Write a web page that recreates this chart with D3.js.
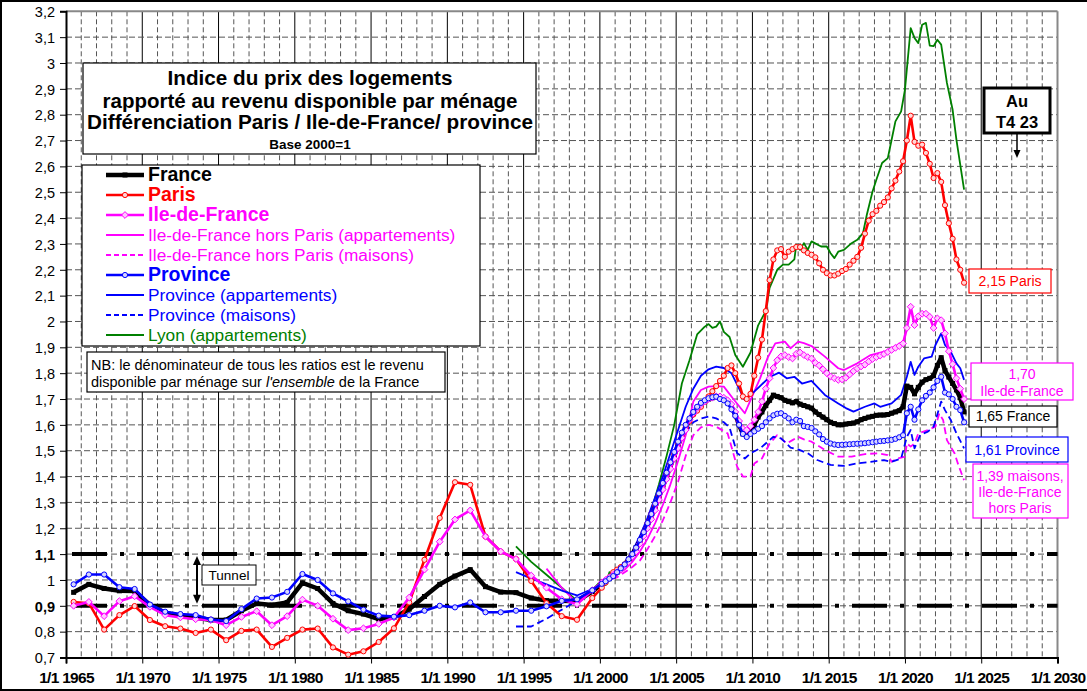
<!DOCTYPE html>
<html><head><meta charset="utf-8">
<script src="https://cdn.jsdelivr.net/npm/d3@7/dist/d3.min.js"></script>
<style>body{margin:0;background:#fff;overflow:hidden}svg{display:block;font-family:"Liberation Sans",Arial,sans-serif}</style>
</head><body><svg id="c" width="1087" height="691"></svg>
<script>
// ---------- DATA ----------
const yTicks = [0.7,0.8,0.9,1.0,1.1,1.2,1.3,1.4,1.5,1.6,1.7,1.8,1.9,2.0,2.1,2.2,2.3,2.4,2.5,2.6,2.7,2.8,2.9,3.0,3.1,3.2];
const yTickLabels = ["0,7","0,8","0,9","1","1,1","1,2","1,3","1,4","1,5","1,6","1,7","1,8","1,9","2","2,1","2,2","2,3","2,4","2,5","2,6","2,7","2,8","2,9","3","3,1","3,2"];
const yBoldLabels = ["0,9","1,1"];
const xTicks = [1965,1970,1975,1980,1985,1990,1995,2000,2005,2010,2015,2020,2025,2030];
const xTickLabels = ["1/1 1965","1/1 1970","1/1 1975","1/1 1980","1/1 1985","1/1 1990","1/1 1995","1/1 2000","1/1 2005","1/1 2010","1/1 2015","1/1 2020","1/1 2025","1/1 2030"];
const tunnelLevels = [1.1, 0.9];

const france = [[1965.5,.952],[1966.5,.983],[1967.5,.967],[1968.5,.958],[1969.5,.957],[1970.5,.903],[1971.5,.873],[1972.5,.86],[1973.5,.855],[1974.5,.845],[1975.5,.845],[1976.5,.881],[1977.5,.909],[1978.5,.903],[1979.5,.913],[1980.5,.989],[1981.5,.967],[1982.5,.909],[1983.5,.881],[1984.5,.868],[1985.5,.849],[1986.5,.855],[1987.5,.887],[1988.5,.936],[1989.5,.983],[1990.5,1.015],[1991.5,1.04],[1992.5,.974],[1993.5,.953],[1994.5,.951],[1995.5,.93],[1996.5,.92],[1997.5,.92],[1998.5,.918],[1999.5,.955],
[2000.125,.985],[2000.375,.995],[2000.625,1.005],[2000.875,1.015],[2001.125,1.03],[2001.375,1.045],[2001.625,1.06],[2001.875,1.08],[2002.125,1.10],[2002.375,1.125],[2002.625,1.15],[2002.875,1.18],[2003.125,1.21],[2003.375,1.245],[2003.625,1.28],[2003.875,1.32],[2004.125,1.36],[2004.375,1.40],[2004.625,1.44],[2004.875,1.48],[2005.125,1.52],[2005.375,1.555],[2005.625,1.59],[2005.875,1.62],[2006.125,1.645],[2006.375,1.665],[2006.625,1.68],[2006.875,1.69],[2007.125,1.70],[2007.375,1.705],[2007.625,1.71],[2007.875,1.705],[2008.125,1.70],[2008.375,1.69],[2008.625,1.67],[2008.875,1.64],[2009.125,1.60],[2009.375,1.565],[2009.625,1.56],[2009.875,1.575],[2010.125,1.60],[2010.375,1.63],[2010.625,1.65],[2010.875,1.675],[2011.125,1.695],[2011.375,1.715],[2011.625,1.71],[2011.875,1.705],[2012.125,1.695],[2012.375,1.69],[2012.625,1.685],[2012.875,1.69],[2013.125,1.68],[2013.375,1.675],[2013.625,1.67],[2013.875,1.665],[2014.125,1.65],[2014.375,1.64],[2014.625,1.63],[2014.875,1.62],[2015.125,1.61],[2015.375,1.605],[2015.625,1.60],[2015.875,1.60],[2016.125,1.603],[2016.375,1.605],[2016.625,1.607],[2016.875,1.612],[2017.125,1.62],[2017.375,1.625],[2017.625,1.63],[2017.875,1.633],[2018.125,1.637],[2018.375,1.638],[2018.625,1.638],[2018.875,1.64],[2019.125,1.645],[2019.375,1.65],[2019.625,1.655],[2019.875,1.67],[2020.125,1.75],[2020.375,1.745],[2020.625,1.72],[2020.875,1.745],[2021.125,1.765],[2021.375,1.775],[2021.625,1.78],[2021.875,1.79],[2022.125,1.83],[2022.375,1.86],[2022.625,1.81],[2022.875,1.785],[2023.125,1.76],[2023.375,1.735],[2023.625,1.705],[2023.875,1.65]];

const paris = [[1965.5,.915],[1966.5,.91],[1967.5,.808],[1968.5,.864],[1969.5,.899],[1970.5,.845],[1971.5,.821],[1972.5,.812],[1973.5,.795],[1974.5,.808],[1975.5,.767],[1976.5,.803],[1977.5,.808],[1978.5,.741],[1979.5,.776],[1980.5,.808],[1981.5,.812],[1982.5,.739],[1983.5,.711],[1984.5,.724],[1985.5,.76],[1986.5,.813],[1987.5,.913],[1988.5,1.078],[1989.5,1.24],[1990.5,1.378],[1991.5,1.368],[1992.5,1.168],[1993.5,1.11],[1994.5,1.081],[1995.5,.996],[1996.5,.91],[1997.5,.86],[1998.5,.846],[1999.5,.93],
[2000.125,.97],[2000.375,.99],[2000.625,1.01],[2000.875,1.03],[2001.125,1.04],[2001.375,1.05],[2001.625,1.06],[2001.875,1.075],[2002.125,1.095],[2002.375,1.12],[2002.625,1.15],[2002.875,1.185],[2003.125,1.22],[2003.375,1.255],[2003.625,1.29],[2003.875,1.33],[2004.125,1.37],[2004.375,1.41],[2004.625,1.45],[2004.875,1.49],[2005.125,1.53],[2005.375,1.56],[2005.625,1.59],[2005.875,1.615],[2006.125,1.64],[2006.375,1.655],[2006.625,1.67],[2006.875,1.69],[2007.125,1.71],[2007.375,1.73],[2007.625,1.75],[2007.875,1.77],[2008.125,1.79],[2008.375,1.82],[2008.625,1.83],[2008.875,1.80],[2009.125,1.76],[2009.375,1.71],[2009.625,1.70],[2009.875,1.72],[2010.125,1.79],[2010.375,1.86],[2010.625,1.93],[2010.875,2.04],[2011.125,2.16],[2011.375,2.24],[2011.625,2.275],[2011.875,2.28],[2012.125,2.25],[2012.375,2.27],[2012.625,2.28],[2012.875,2.288],[2013.125,2.288],[2013.375,2.275],[2013.625,2.265],[2013.875,2.258],[2014.125,2.248],[2014.375,2.225],[2014.625,2.20],[2014.875,2.187],[2015.125,2.178],[2015.375,2.178],[2015.625,2.185],[2015.875,2.195],[2016.125,2.203],[2016.375,2.22],[2016.625,2.235],[2016.875,2.25],[2017.125,2.285],[2017.375,2.34],[2017.625,2.39],[2017.875,2.415],[2018.125,2.428],[2018.375,2.448],[2018.625,2.462],[2018.875,2.48],[2019.125,2.515],[2019.375,2.545],[2019.625,2.58],[2019.875,2.62],[2020.125,2.70],[2020.375,2.796],[2020.625,2.695],[2020.875,2.68],[2021.125,2.684],[2021.375,2.652],[2021.625,2.61],[2021.875,2.555],[2022.125,2.574],[2022.375,2.54],[2022.625,2.45],[2022.875,2.38],[2023.125,2.32],[2023.375,2.24],[2023.625,2.20],[2023.875,2.15]];

const idf = [[1965.5,.9],[1966.5,.915],[1967.5,.86],[1968.5,.918],[1969.5,.937],[1970.5,.896],[1971.5,.864],[1972.5,.855],[1973.5,.848],[1974.5,.845],[1975.5,.825],[1976.5,.857],[1977.5,.879],[1978.5,.825],[1979.5,.86],[1980.5,.924],[1981.5,.9],[1982.5,.85],[1983.5,.806],[1984.5,.813],[1985.5,.83],[1986.5,.855],[1987.5,.932],[1988.5,1.04],[1989.5,1.148],[1990.5,1.234],[1991.5,1.269],[1992.5,1.168],[1993.5,1.11],[1994.5,1.081],[1995.5,1.017],[1996.5,.97],[1997.5,.925],[1998.5,.906],[1999.5,.96],
[2000.125,.99],[2000.375,1.0],[2000.625,1.01],[2000.875,1.02],[2001.125,1.03],[2001.375,1.04],[2001.625,1.055],[2001.875,1.07],[2002.125,1.09],[2002.375,1.11],[2002.625,1.14],[2002.875,1.17],[2003.125,1.20],[2003.375,1.235],[2003.625,1.27],[2003.875,1.31],[2004.125,1.35],[2004.375,1.39],[2004.625,1.43],[2004.875,1.47],[2005.125,1.51],[2005.375,1.55],[2005.625,1.58],[2005.875,1.62],[2006.125,1.645],[2006.375,1.665],[2006.625,1.68],[2006.875,1.69],[2007.125,1.70],[2007.375,1.705],[2007.625,1.71],[2007.875,1.71],[2008.125,1.705],[2008.375,1.695],[2008.625,1.68],[2008.875,1.65],[2009.125,1.615],[2009.375,1.585],[2009.625,1.58],[2009.875,1.595],[2010.125,1.62],[2010.375,1.65],[2010.625,1.69],[2010.875,1.74],[2011.125,1.78],[2011.375,1.82],[2011.625,1.85],[2011.875,1.865],[2012.125,1.87],[2012.375,1.862],[2012.625,1.857],[2012.875,1.875],[2013.125,1.88],[2013.375,1.87],[2013.625,1.862],[2013.875,1.857],[2014.125,1.84],[2014.375,1.83],[2014.625,1.815],[2014.875,1.80],[2015.125,1.787],[2015.375,1.78],[2015.625,1.774],[2015.875,1.776],[2016.125,1.782],[2016.375,1.795],[2016.625,1.808],[2016.875,1.818],[2017.125,1.826],[2017.375,1.833],[2017.625,1.845],[2017.875,1.855],[2018.125,1.862],[2018.375,1.868],[2018.625,1.874],[2018.875,1.882],[2019.125,1.89],[2019.375,1.898],[2019.625,1.905],[2019.875,1.915],[2020.125,1.975],[2020.375,2.057],[2020.625,1.986],[2020.875,2.02],[2021.125,2.03],[2021.375,2.03],[2021.625,2.018],[2021.875,1.975],[2022.125,2.012],[2022.375,2.005],[2022.625,1.954],[2022.875,1.885],[2023.125,1.835],[2023.375,1.78],[2023.625,1.74],[2023.875,1.70]];

const idfApparts = [[1996.5,1.044],[1997.5,.97],[1998.5,.91],[1999.5,.96],[2000.125,.985],[2000.625,1.0],[2001.125,1.02],[2001.625,1.04],[2002.125,1.07],[2002.625,1.11],[2003.125,1.16],[2003.625,1.22],[2004.125,1.29],[2004.625,1.37],[2005.125,1.46],[2005.625,1.56],[2006.125,1.69],[2006.625,1.735],[2007.125,1.748],[2007.625,1.75],[2008.125,1.748],[2008.75,1.70],[2009.5,1.645],[2009.875,1.696],[2010.5,1.78],[2011.0,1.86],[2011.5,1.915],[2012.125,1.922],[2012.5,1.896],[2013.0,1.922],[2013.375,1.916],[2013.875,1.905],[2014.75,1.864],[2015.625,1.819],[2016.0,1.812],[2016.875,1.838],[2017.75,1.87],[2018.625,1.883],[2019.5,1.909],[2019.875,1.922]];

const idfMaisons = [[2000.125,.99],[2000.625,1.0],[2001.125,1.01],[2001.625,1.03],[2002.125,1.05],[2002.625,1.075],[2003.125,1.12],[2003.625,1.17],[2004.125,1.23],[2004.625,1.30],[2005.125,1.38],[2005.625,1.48],[2006.125,1.56],[2006.625,1.59],[2007.125,1.60],[2007.625,1.593],[2008.375,1.567],[2009.0,1.438],[2009.375,1.40],[2009.875,1.40],[2010.125,1.451],[2010.625,1.47],[2011.125,1.528],[2011.625,1.56],[2012.25,1.528],[2012.625,1.541],[2013.0,1.554],[2013.375,1.544],[2013.875,1.535],[2014.75,1.503],[2015.625,1.477],[2016.5,1.477],[2017.375,1.487],[2018.25,1.49],[2018.875,1.483],[2019.125,1.457],[2019.5,1.47],[2020.0,1.477],[2020.125,1.528],[2020.375,1.516],[2020.625,1.528],[2020.875,1.567],[2021.5,1.58],[2022.0,1.593],[2022.25,1.644],[2022.5,1.619],[2022.75,1.541],[2023.25,1.49],[2023.5,1.445],[2023.875,1.386]];

const province = [[1965.5,.983],[1966.5,1.021],[1967.5,1.021],[1968.5,.972],[1969.5,.965],[1970.5,.905],[1971.5,.877],[1972.5,.868],[1973.5,.864],[1974.5,.847],[1975.5,.841],[1976.5,.887],[1977.5,.928],[1978.5,.932],[1979.5,.954],[1980.5,1.023],[1981.5,1.0],[1982.5,.948],[1983.5,.917],[1984.5,.885],[1985.5,.862],[1986.5,.858],[1987.5,.864],[1988.5,.881],[1989.5,.9],[1990.5,.894],[1991.5,.913],[1992.5,.875],[1993.5,.875],[1994.5,.881],[1995.5,.881],[1996.5,.898],[1997.5,.919],[1998.5,.925],[1999.5,.96],
[2000.125,.985],[2000.375,.995],[2000.625,1.005],[2000.875,1.015],[2001.125,1.03],[2001.375,1.045],[2001.625,1.06],[2001.875,1.08],[2002.125,1.10],[2002.375,1.125],[2002.625,1.155],[2002.875,1.185],[2003.125,1.22],[2003.375,1.255],[2003.625,1.295],[2003.875,1.335],[2004.125,1.375],[2004.375,1.415],[2004.625,1.455],[2004.875,1.495],[2005.125,1.535],[2005.375,1.57],[2005.625,1.60],[2005.875,1.625],[2006.125,1.65],[2006.375,1.67],[2006.625,1.685],[2006.875,1.695],[2007.125,1.703],[2007.375,1.707],[2007.625,1.709],[2007.875,1.70],[2008.125,1.695],[2008.375,1.683],[2008.625,1.66],[2008.875,1.635],[2009.125,1.60],[2009.375,1.565],[2009.625,1.553],[2009.875,1.565],[2010.125,1.575],[2010.375,1.585],[2010.625,1.595],[2010.875,1.61],[2011.125,1.625],[2011.375,1.637],[2011.625,1.643],[2011.875,1.645],[2012.125,1.635],[2012.375,1.625],[2012.625,1.61],[2012.875,1.62],[2013.125,1.615],[2013.375,1.595],[2013.625,1.592],[2013.875,1.588],[2014.125,1.575],[2014.375,1.563],[2014.625,1.545],[2014.875,1.535],[2015.125,1.528],[2015.375,1.524],[2015.625,1.522],[2015.875,1.523],[2016.125,1.524],[2016.375,1.525],[2016.625,1.526],[2016.875,1.527],[2017.125,1.528],[2017.375,1.529],[2017.625,1.531],[2017.875,1.533],[2018.125,1.535],[2018.375,1.537],[2018.625,1.538],[2018.875,1.54],[2019.125,1.542],[2019.375,1.546],[2019.625,1.552],[2019.875,1.56],[2020.125,1.645],[2020.375,1.67],[2020.625,1.62],[2020.875,1.66],[2021.125,1.695],[2021.375,1.712],[2021.625,1.725],[2021.875,1.745],[2022.125,1.77],[2022.375,1.786],[2022.625,1.725],[2022.875,1.718],[2023.125,1.70],[2023.375,1.67],[2023.625,1.657],[2023.875,1.61]];

const provApparts = [[1994.5,1.03],[1995.4,1.008],[1996.5,.983],[1997.6,.957],[1998.5,.94],[1999.5,.965],[2000.125,.985],[2000.625,1.005],[2001.125,1.03],[2001.625,1.065],[2002.125,1.11],[2002.625,1.17],[2003.125,1.24],[2003.625,1.32],[2004.125,1.40],[2004.625,1.49],[2005.125,1.58],[2005.625,1.67],[2006.125,1.74],[2006.625,1.79],[2007.125,1.815],[2007.625,1.825],[2008.125,1.82],[2008.625,1.80],[2009.125,1.74],[2009.5,1.696],[2009.875,1.715],[2010.5,1.75],[2011.125,1.785],[2011.75,1.802],[2012.25,1.78],[2012.75,1.786],[2013.25,1.76],[2013.875,1.77],[2014.75,1.716],[2015.625,1.683],[2016.125,1.665],[2016.625,1.651],[2017.375,1.67],[2018.0,1.683],[2018.375,1.67],[2019.125,1.683],[2019.75,1.716],[2020.125,1.786],[2020.375,1.844],[2020.625,1.793],[2020.875,1.825],[2021.25,1.857],[2021.75,1.864],[2022.0,1.909],[2022.375,1.954],[2022.625,1.909],[2023.0,1.883],[2023.375,1.838],[2023.625,1.819],[2023.875,1.774]];

const provMaisons = [[1994.5,.82],[1995.5,.82],[1996.5,.85],[1997.5,.885],[1998.5,.92],[1999.5,.955],[2000.125,.985],[2000.625,1.0],[2001.125,1.02],[2001.625,1.045],[2002.125,1.09],[2002.625,1.14],[2003.125,1.20],[2003.625,1.27],[2004.125,1.35],[2004.625,1.44],[2005.125,1.52],[2005.625,1.57],[2006.125,1.61],[2006.625,1.625],[2007.125,1.632],[2007.625,1.625],[2008.125,1.61],[2008.5,1.59],[2009.0,1.49],[2009.5,1.47],[2009.875,1.49],[2010.5,1.509],[2011.375,1.554],[2011.875,1.548],[2012.5,1.512],[2013.0,1.505],[2013.625,1.49],[2014.25,1.464],[2015.125,1.445],[2016.0,1.441],[2016.875,1.451],[2017.75,1.457],[2018.625,1.464],[2019.125,1.457],[2019.75,1.47],[2020.125,1.554],[2020.375,1.58],[2020.625,1.509],[2021.0,1.561],[2021.5,1.574],[2021.875,1.593],[2022.375,1.69],[2022.625,1.657],[2023.0,1.619],[2023.375,1.567],[2023.875,1.509]];

const lyon = [[1994.5,1.13],[1995.5,1.07],[1996.5,1.02],[1997.5,.97],[1998.5,.92],[1999.5,.96],[2000.125,1.0],[2000.375,.98],[2000.625,1.03],[2000.875,1.02],[2001.375,1.04],[2001.875,1.06],[2002.375,1.10],[2002.875,1.18],[2003.375,1.27],[2003.875,1.37],[2004.375,1.48],[2004.875,1.60],[2005.375,1.76],[2005.875,1.85],[2006.375,1.95],[2006.875,1.98],[2007.125,1.99],[2007.375,1.975],[2007.625,1.98],[2007.875,2.0],[2008.125,1.96],[2008.5,1.94],[2008.875,1.87],[2009.375,1.825],[2009.875,1.88],[2010.375,1.985],[2010.875,2.04],[2011.125,2.13],[2011.625,2.20],[2012.0,2.22],[2012.375,2.22],[2012.75,2.24],[2012.875,2.297],[2013.125,2.277],[2013.375,2.303],[2013.625,2.277],[2013.875,2.31],[2014.5,2.29],[2014.875,2.29],[2015.125,2.264],[2015.375,2.245],[2015.625,2.27],[2016.0,2.277],[2016.5,2.303],[2016.875,2.316],[2017.25,2.342],[2017.5,2.413],[2017.875,2.503],[2018.125,2.548],[2018.5,2.613],[2018.875,2.632],[2019.125,2.703],[2019.375,2.774],[2019.75,2.813],[2020.0,2.897],[2020.375,3.135],[2020.625,3.097],[2020.875,3.077],[2021.125,3.148],[2021.375,3.155],[2021.625,3.067],[2021.875,3.065],[2022.125,3.09],[2022.375,3.071],[2022.75,2.923],[2023.125,2.819],[2023.375,2.703],[2023.875,2.51]];

// ---------- DRAW ----------
const svg = d3.select("#c");
const W = 1087, H = 691;
const x = d3.scaleLinear().domain([1965, 2030]).range([66, 1057.5]);
const y = d3.scaleLinear().domain([0.7, 3.2]).range([657.5, 11.3]);
const FONT = '"Liberation Sans", Arial, sans-serif';

svg.append("rect").attr("x",0).attr("y",0).attr("width",W).attr("height",H).attr("fill","#fff");

// grid
const grid = svg.append("g");
const years = d3.range(1966, 2030);
years.forEach(yr => {
  const major = yr % 5 === 0;
  grid.append("line").attr("x1",x(yr)).attr("x2",x(yr)).attr("y1",y(3.2)).attr("y2",y(0.7))
    .attr("stroke", major ? "#000" : "#555").attr("stroke-width", 1)
    .attr("stroke-dasharray", major ? null : "5,3");
});
yTicks.slice(1, -1).forEach(v => {
  grid.append("line").attr("x1",x(1965)).attr("x2",x(2030)).attr("y1",y(v)).attr("y2",y(v))
    .attr("stroke","#555").attr("stroke-width",1).attr("stroke-dasharray","6,3");
});
// plot frame top/right grey
grid.append("line").attr("x1",x(1965)).attr("x2",x(2030)).attr("y1",y(3.2)).attr("y2",y(3.2)).attr("stroke","#888").attr("stroke-width",2);
grid.append("line").attr("x1",x(2030)).attr("x2",x(2030)).attr("y1",y(3.2)).attr("y2",y(0.7)).attr("stroke","#888").attr("stroke-width",2);

// tunnel lines
tunnelLevels.forEach(v => {
  svg.append("line").attr("x1",x(1965)).attr("x2",x(2030)).attr("y1",y(v)).attr("y2",y(v))
    .attr("stroke","#000").attr("stroke-width",4).attr("stroke-dasharray","35,13,4,13").attr("stroke-dashoffset",59);
});

// axes
const yAxis = d3.axisLeft(y).tickValues(yTicks).tickSize(6).tickFormat((d,i)=>yTickLabels[i]);
const gy = svg.append("g").attr("transform",`translate(${x(1965)},0)`).call(yAxis);
gy.select(".domain").attr("stroke","#000").attr("stroke-width",2);
gy.selectAll(".tick line").attr("stroke","#000");
gy.selectAll(".tick text").attr("font-family",FONT).attr("font-size",14.5).attr("fill","#000").attr("x",-11).attr("dy","0.36em")
  .attr("font-weight",(d,i)=> yBoldLabels.includes(yTickLabels[i]) ? "bold" : "normal");

const xAxis = d3.axisBottom(x).tickValues(xTicks).tickSize(6).tickFormat((d,i)=>xTickLabels[i]);
const gx = svg.append("g").attr("transform",`translate(0,${y(0.7)})`).call(xAxis);
gx.select(".domain").attr("stroke","#000").attr("stroke-width",2);
gx.selectAll(".tick line").attr("stroke","#000");
gx.selectAll(".tick text").attr("font-family",FONT).attr("font-size",15.5).attr("font-weight","bold").attr("fill","#000").attr("y",14).attr("letter-spacing","-0.7");

// series
const line = d3.line().x(d=>x(d[0])).y(d=>y(d[1]));
const series = [
  {name:"Lyon (appartements)", data:lyon, color:"#008000", width:1.8},
  {name:"Ile-de-France hors Paris (maisons)", data:idfMaisons, color:"#FF00FF", width:1.8, dash:"7,4"},
  {name:"Province (maisons)", data:provMaisons, color:"#0000FF", width:1.8, dash:"7,4"},
  {name:"Ile-de-France hors Paris (appartements)", data:idfApparts, color:"#FF00FF", width:1.8},
  {name:"Province (appartements)", data:provApparts, color:"#0000FF", width:1.8},
  {name:"France", data:france, color:"#000", width:4.5, marker:"square"},
  {name:"Paris", data:paris, color:"#FF0000", width:2.6, marker:"circle", mfill:"#ffd6d6"},
  {name:"Ile-de-France", data:idf, color:"#FF00FF", width:2.6, marker:"diamond", mfill:"#ffc8ff"},
  {name:"Province", data:province, color:"#0000FF", width:2.6, marker:"circle", mfill:"#d6d6ff"}
];
function drawMarker(g, cx, cy, s){
  if (s.marker === "square") g.append("rect").attr("x",cx-2.5).attr("y",cy-2.5).attr("width",5).attr("height",5).attr("fill","#000");
  else if (s.marker === "circle") g.append("circle").attr("cx",cx).attr("cy",cy).attr("r",2.6).attr("fill",s.mfill).attr("stroke",s.color).attr("stroke-width",1);
  else if (s.marker === "diamond") g.append("path").attr("d",`M${cx},${cy-3.4}L${cx+3.4},${cy}L${cx},${cy+3.4}L${cx-3.4},${cy}Z`).attr("fill",s.mfill).attr("stroke",s.color).attr("stroke-width",1);
}
series.forEach(s => {
  const g = svg.append("g");
  g.append("path").attr("d",line(s.data)).attr("fill","none").attr("stroke",s.color).attr("stroke-width",s.width)
    .attr("stroke-dasharray",s.dash||null).attr("stroke-linejoin","round");
  if (s.marker) s.data.forEach(d => drawMarker(g, x(d[0]), y(d[1]), s));
});

// helpers
function box(x0,y0,x1,y1,stroke,sw){
  return svg.append("rect").attr("x",x0).attr("y",y0).attr("width",x1-x0).attr("height",y1-y0).attr("fill","#fff").attr("stroke",stroke).attr("stroke-width",sw||1);
}
function text(tx,ty,str,opts){
  const t = svg.append("text").attr("x",tx).attr("y",ty).attr("font-family",FONT)
    .attr("font-size",opts.size).attr("font-weight",opts.bold?"bold":"normal").attr("fill",opts.color||"#000")
    .attr("text-anchor",opts.anchor||"start").text(str);
  if (opts.len) t.attr("textLength",opts.len).attr("lengthAdjust","spacingAndGlyphs");
  return t;
}
// title box
box(83,63,536,154,"#000",1.2);
text(310,85,"Indice du prix des logements",{size:19.5,bold:true,anchor:"middle",len:285});
text(310,108,"rapporté au revenu disponible par ménage",{size:19.5,bold:true,anchor:"middle",len:415});
text(310,129,"Différenciation Paris / Ile-de-France/ province",{size:19.5,bold:true,anchor:"middle",len:446});
text(310,149,"Base 2000=1",{size:13.5,bold:true,anchor:"middle"});

// legend
box(82,165,480,346,"#000",1.2);
const legendOrder = [
  {s:"France", bold:true}, {s:"Paris", bold:true}, {s:"Ile-de-France", bold:true},
  {s:"Ile-de-France hors Paris (appartements)"}, {s:"Ile-de-France hors Paris (maisons)"},
  {s:"Province", bold:true}, {s:"Province (appartements)"}, {s:"Province (maisons)"}, {s:"Lyon (appartements)"}
];
legendOrder.forEach((l,i) => {
  const s = series.find(d=>d.name===l.s);
  const ly = 175 + i*20;
  const g = svg.append("g");
  g.append("line").attr("x1",106).attr("x2",144).attr("y1",ly).attr("y2",ly).attr("stroke",s.color)
    .attr("stroke-width",s.width).attr("stroke-dasharray",s.dash?"5,3":null);
  if (s.marker) drawMarker(g,125,ly,s);
  text(148, ly+6, l.s, {size: l.bold?19.5:17.3, bold:!!l.bold, color:s.color});
});

// NB box
box(87,352,445,392,"#000",1.2);
text(91,370,"NB: le dénominateur de tous les ratios est le revenu",{size:14.5});
const nb2 = svg.append("text").attr("x",91).attr("y",387).attr("font-family",FONT).attr("font-size",14.5);
nb2.append("tspan").text("disponible par ménage sur ");
nb2.append("tspan").attr("font-style","italic").text("l'ensemble");
nb2.append("tspan").text(" de la France");

// Tunnel
box(202,565,256,585,"#000",1);
text(229,580,"Tunnel",{size:13.5,anchor:"middle"});
svg.append("line").attr("x1",197).attr("x2",197).attr("y1",y(1.1)+10).attr("y2",y(0.9)-10).attr("stroke","#000").attr("stroke-width",2);
svg.append("path").attr("d",`M197,${y(1.1)+2}L193,${y(1.1)+11}L201,${y(1.1)+11}Z`).attr("fill","#000");
svg.append("path").attr("d",`M197,${y(0.9)-2}L193,${y(0.9)-11}L201,${y(0.9)-11}Z`).attr("fill","#000");

// Au T4 23
box(984,88,1050,133,"#000",3);
text(1017,107,"Au",{size:16.5,bold:true,anchor:"middle"});
text(1017,128,"T4 23",{size:16.5,bold:true,anchor:"middle"});
svg.append("line").attr("x1",1017).attr("x2",1017).attr("y1",134).attr("y2",152).attr("stroke","#000").attr("stroke-width",1.5);
svg.append("path").attr("d","M1017,158L1013.5,150L1020.5,150Z").attr("fill","#000");

// end labels
box(969,269,1051,293,"#FF0000",1.2);
text(1010,286,"2,15 Paris",{size:14,color:"#FF0000",anchor:"middle"});
box(971,363,1073,400,"#FF00FF",1.2);
text(1022,379,"1,70",{size:14,color:"#FF00FF",anchor:"middle"});
text(1022,396,"Ile-de-France",{size:14,color:"#FF00FF",anchor:"middle"});
box(969,406,1057,427,"#000",1.2);
text(1013,421,"1,65 France",{size:14,color:"#000",anchor:"middle"});
box(966,437,1068,462,"#0000FF",1.2);
text(1017,455,"1,61 Province",{size:14,color:"#0000FF",anchor:"middle"});
box(973,464,1068,518,"#FF00FF",1.2);
text(1020,481,"1,39 maisons,",{size:14,color:"#FF00FF",anchor:"middle"});
text(1020,497,"Ile-de-France",{size:14,color:"#FF00FF",anchor:"middle"});
text(1020,513,"hors Paris",{size:14,color:"#FF00FF",anchor:"middle"});

// outer frame
svg.append("rect").attr("x",1).attr("y",1).attr("width",W+4).attr("height",H-2).attr("fill","none").attr("stroke","#000").attr("stroke-width",2);
</script></body></html>
